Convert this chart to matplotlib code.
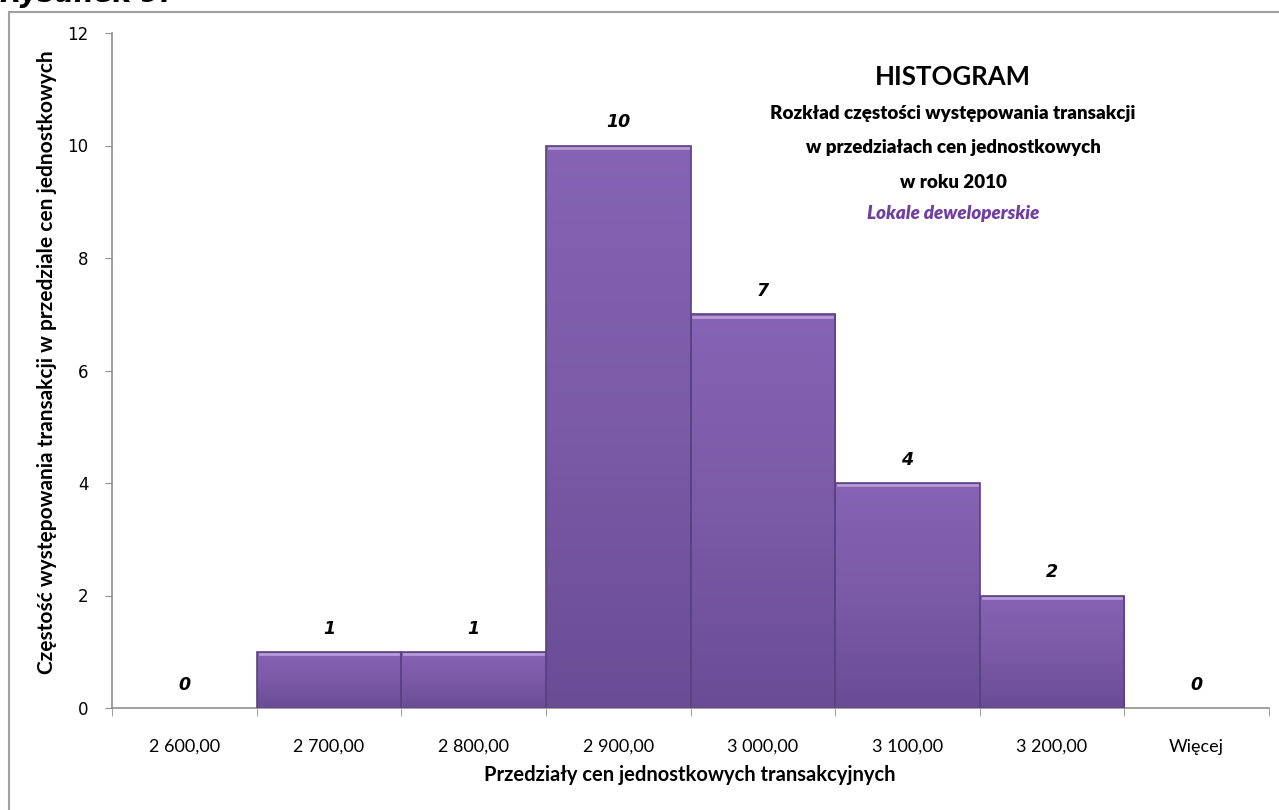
import numpy as np
import matplotlib
matplotlib.use("Agg")
import matplotlib.pyplot as plt
from matplotlib.colors import LinearSegmentedColormap
from matplotlib.patches import Rectangle

# data
categories = ["2 600,00", "2 700,00", "2 800,00", "2 900,00",
              "3 000,00", "3 100,00", "3 200,00", "Więcej"]
counts = [0, 1, 1, 10, 7, 4, 2, 0]
yticks = [0, 2, 4, 6, 8, 10, 12]

fig = plt.figure(figsize=(12.79, 8.10), dpi=100)

# outer frame of the chart object (runs off the right/bottom edge)
fig.patches.append(Rectangle((9 / 1279, -0.05), 1.2, 1 - 12 / 810 + 0.05,
                             transform=fig.transFigure, fill=False,
                             edgecolor="#a0a0a0", linewidth=1.5))
# caption cut off at the top of the image
fig.text(0.0, 1.008, "Rysunek 9.", fontsize=20, fontweight="bold",
         fontstyle="italic", family="DejaVu Sans", ha="left", va="center")

ax = fig.add_axes([112 / 1279, 1 - 708 / 810, (1269 - 112) / 1279, (708 - 33) / 810])

cmap = LinearSegmentedColormap.from_list("bar", ["#6a4c95", "#7b5aa7", "#8663b4"])
grad = np.linspace(0, 1, 256).reshape(-1, 1)
for i, c in enumerate(counts):
    if c == 0:
        continue
    rect = Rectangle((i, 0), 1, c, facecolor="none", edgecolor="#5a4282", linewidth=1.2, zorder=3)
    ax.add_patch(rect)
    im = ax.imshow(grad, cmap=cmap, aspect="auto", extent=(i, i + 1, 0, c),
                   origin="lower", zorder=2)
    im.set_clip_path(rect)
    # light bevel on top edge
    ax.plot([i + 0.02, i + 0.98], [c - 0.04, c - 0.04], color="#b79ad6", lw=2, zorder=3)

for i, c in enumerate(counts):
    ax.text(i + 0.5, c + 0.25, str(c), ha="center", va="bottom", fontsize=12.5,
            fontweight="bold", fontstyle="italic", family="DejaVu Sans")

ax.set_xlim(0, len(categories))
ax.set_ylim(0, 12)
ax.set_yticks(yticks)
ax.set_yticklabels([str(v) for v in yticks], family="DejaVu Sans", fontsize=12)
ax.set_xticks(np.arange(len(categories)) + 0.5)
ax.set_xticklabels(categories, family="Lato", fontsize=13)
ax.set_xticks(np.arange(len(categories) + 1), minor=True)
ax.tick_params(axis="x", which="major", length=0, pad=22)
ax.tick_params(axis="x", which="minor", length=6, color="#909090", direction="out")
ax.tick_params(axis="y", length=5, color="#909090", pad=12)

for s in ["top", "right"]:
    ax.spines[s].set_visible(False)
for s in ["left", "bottom"]:
    ax.spines[s].set_color("#909090")
    ax.spines[s].set_linewidth(1.2)

ax.set_xlabel("Przedziały cen jednostkowych transakcyjnych", family="Lato",
              fontweight="bold", fontsize=14.5)
ax.set_ylabel("Częstość występowania transakcji w przedziale cen jednostkowych",
              family="Lato", fontweight="bold", fontsize=15)
ax.xaxis.set_label_coords((690 - 112) / 1157, -(775 - 708) / 675)
ax.yaxis.set_label_coords(-(112 - 47) / 1157, (708 - 362) / 675)
ax.xaxis.label.set_va("center")
ax.yaxis.label.set_va("center")

# title block
tx = 953 / 1279
fig.text(tx, 1 - 77 / 810, "HISTOGRAM", ha="center", va="center",
         fontsize=18.5, fontweight="bold", family="Lato")
title_lines = ["Rozkład częstości występowania transakcji",
               "w przedziałach cen jednostkowych",
               "w roku 2010"]
for line, yp in zip(title_lines, [113, 148, 182]):
    fig.text(tx, 1 - yp / 810, line, ha="center", va="center",
             fontsize=13.5, fontweight="heavy", family="Lato")
fig.text(tx, 1 - 213 / 810, "Lokale deweloperskie", ha="center", va="center",
         fontsize=13.5, fontweight="heavy", fontstyle="italic", family="Lato",
         color="#7040a0")

fig.savefig("out.png", dpi=100)
